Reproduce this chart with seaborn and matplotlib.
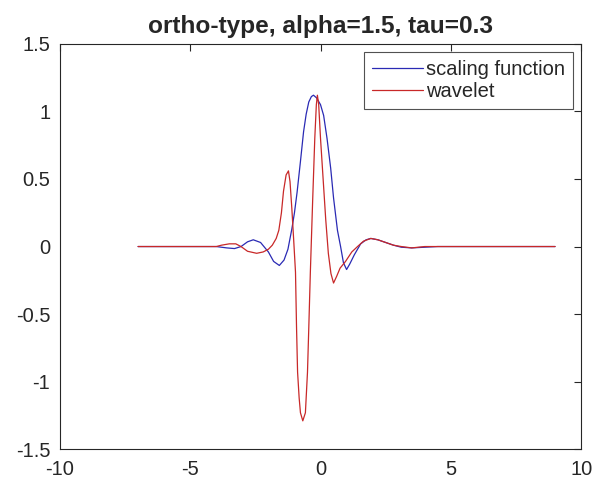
import numpy as np
import pandas as pd
import matplotlib
matplotlib.use("Agg")
import matplotlib.pyplot as plt
import seaborn as sns

# values
scaling_x = [-7.0, -4.0, -3.6, -3.3, -3.05, -2.8, -2.58, -2.3, -2.0, -1.8,
             -1.58, -1.4, -1.25, -1.1, -1.0, -0.9, -0.77, -0.65, -0.55, -0.45,
             -0.35, -0.27, -0.15, 0.0, 0.12, 0.25, 0.39, 0.5, 0.65, 0.77,
             0.88, 1.0, 1.12, 1.3, 1.54, 1.75, 1.93, 2.2, 2.5, 2.8,
             3.1, 3.5, 4.0, 4.5, 9.0]
scaling_y = [0.0, 0.0, -0.01, -0.015, 0.0, 0.035, 0.05, 0.03, -0.04, -0.11,
             -0.14, -0.1, -0.02, 0.13, 0.25, 0.4, 0.63, 0.85, 0.98, 1.07,
             1.11, 1.12, 1.1, 1.05, 0.97, 0.8, 0.58, 0.36, 0.12, 0.0,
             -0.12, -0.17, -0.13, -0.06, 0.02, 0.05, 0.06, 0.05, 0.03, 0.01,
             -0.005, -0.01, -0.005, 0.0, 0.0]

wavelet_x = [-7.0, -4.0, -3.8, -3.5, -3.25, -3.05, -2.8, -2.45, -2.2, -2.0,
             -1.85, -1.7, -1.6, -1.5, -1.42, -1.32, -1.23, -1.17, -1.1, -1.03,
             -0.96, -0.92, -0.88, -0.82, -0.77, -0.68, -0.58, -0.5, -0.45, -0.39,
             -0.3, -0.22, -0.16, -0.12, -0.07, 0.0, 0.1, 0.2, 0.3, 0.4,
             0.5, 0.62, 0.75, 0.96, 1.2, 1.42, 1.65, 1.93, 2.2, 2.5,
             2.8, 3.1, 3.5, 4.0, 9.0]
wavelet_y = [0.0, 0.0, 0.01, 0.02, 0.02, 0.0, -0.035, -0.05, -0.04, -0.02,
             0.01, 0.06, 0.12, 0.25, 0.41, 0.53, 0.56, 0.48, 0.28, 0.05,
             -0.19, -0.6, -0.93, -1.12, -1.23, -1.29, -1.23, -0.93, -0.6, -0.19,
             0.35, 0.8, 1.05, 1.12, 1.05, 0.8, 0.5, 0.2, -0.05, -0.2,
             -0.27, -0.22, -0.16, -0.11, -0.04, 0.0, 0.04, 0.06, 0.05, 0.03,
             0.01, 0.0, -0.01, 0.0, 0.0]

x_ticks = [-10, -5, 0, 5, 10]
y_ticks = [-1.5, -1, -0.5, 0, 0.5, 1, 1.5]
y_tick_labels = ["-1.5", "-1", "-0.5", "0", "0.5", "1", "1.5"]

sns.set_style("white")
plt.rcParams["font.family"] = ["Liberation Sans", "DejaVu Sans"]

fig = plt.figure(figsize=(5.93, 4.82), dpi=100)
ax = fig.add_axes([0.101, 0.068, 0.879, 0.841])

scaling = pd.DataFrame({"x": scaling_x, "y": scaling_y})
wavelet = pd.DataFrame({"x": wavelet_x, "y": wavelet_y})

sns.lineplot(data=scaling, x="x", y="y", ax=ax, color="#2a2ab4",
             linewidth=0.9, label="scaling function", sort=False)
sns.lineplot(data=wavelet, x="x", y="y", ax=ax, color="#c82828",
             linewidth=0.9, label="wavelet", sort=False)

ax.set_xlim(-10, 10)
ax.set_ylim(-1.5, 1.5)
ax.set_xticks(x_ticks)
ax.set_xticklabels([str(t) for t in x_ticks])
ax.set_yticks(y_ticks)
ax.set_yticklabels(y_tick_labels)
ax.set_xlabel("")
ax.set_ylabel("")
ax.tick_params(direction="in", length=5, width=0.8, top=True, right=True,
               labelsize=14.5, colors="#262626")
ax.tick_params(axis="x", pad=8)
ax.tick_params(axis="y", pad=7)
for s in ax.spines.values():
    s.set_color("#262626")
    s.set_linewidth(0.8)

ax.set_title("ortho-type, alpha=1.5, tau=0.3", fontsize=17.6,
             fontweight="bold", pad=8)

leg = ax.legend(loc="upper right", fontsize=14.5, frameon=True, fancybox=False,
                handlelength=2.55, borderpad=0.4, labelspacing=0.15,
                handletextpad=0.15, borderaxespad=0.4)
leg.get_frame().set_edgecolor("#262626")
leg.get_frame().set_linewidth(0.8)

fig.savefig("out.png", dpi=100)
